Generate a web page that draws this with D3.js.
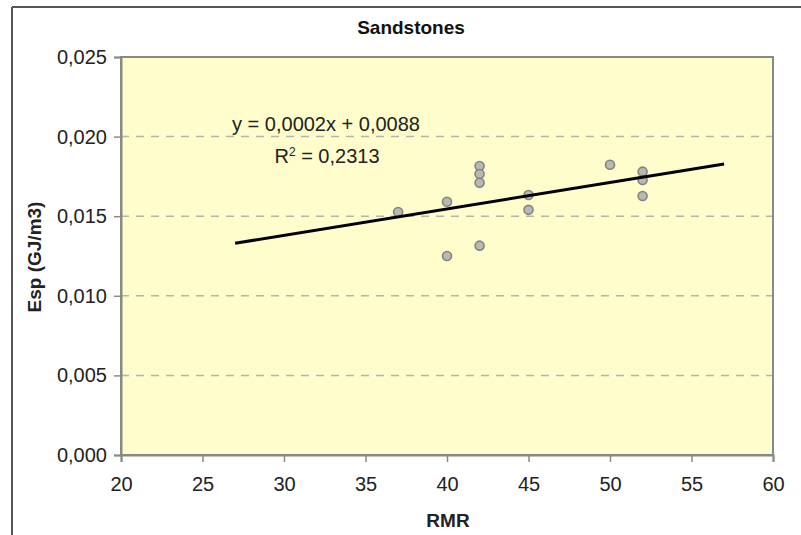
<!DOCTYPE html>
<html><head><meta charset="utf-8">
<script src="https://cdn.jsdelivr.net/npm/d3@7"></script>
<style>body{margin:0;background:#fff}svg{display:block;font-family:"Liberation Sans",Arial,sans-serif}</style>
</head><body><svg width="801" height="535"></svg>
<script>
const title = "Sandstones";
const rmr = [37, 40, 40, 42, 42, 42, 42, 45, 45, 50, 52, 52, 52];
const esp = [0.01526, 0.01591, 0.0125, 0.01815, 0.01765, 0.0171, 0.01315, 0.01633, 0.0154, 0.01823, 0.0178, 0.01727, 0.01627];
const xTicks = [20, 25, 30, 35, 40, 45, 50, 55, 60];
const yTicks = [0, 0.005, 0.010, 0.015, 0.020, 0.025];
const trendRange = [27, 57];
const eqLine1 = "y = 0,0002x + 0,0088";
const r2Value = "0,2313";

const svg = d3.select("svg");
const L = 121, R = 773, T = 57, B = 455;
const x = d3.scaleLinear().domain([20, 60]).range([L, R]);
const y = d3.scaleLinear().domain([0, 0.025]).range([B, T]);

// outer frame
svg.append("line").attr("x1", 12).attr("x2", 801).attr("y1", 7).attr("y2", 7).attr("stroke", "#555").attr("stroke-width", 2);
svg.append("line").attr("x1", 12).attr("x2", 12).attr("y1", 7).attr("y2", 535).attr("stroke", "#555").attr("stroke-width", 2);

// plot area
svg.append("rect").attr("x", L).attr("y", T).attr("width", R - L).attr("height", B - T)
  .attr("fill", "#fefdcb");

// grid
svg.append("g").selectAll("line").data(yTicks.filter(d => d > 0 && d < 0.025)).join("line")
  .attr("x1", L).attr("x2", R).attr("y1", d => y(d)).attr("y2", d => y(d))
  .attr("stroke", "#b5b5a8").attr("stroke-width", 1.5).attr("stroke-dasharray", "8,7");

svg.append("rect").attr("x", L).attr("y", T).attr("width", R - L).attr("height", B - T)
  .attr("fill", "none").attr("stroke", "#8a8a84").attr("stroke-width", 2);

const fmt = d => d3.format(".3f")(d).replace(".", ",");
const ya = svg.append("g").attr("transform", `translate(${L},0)`)
  .call(d3.axisLeft(y).tickValues(yTicks).tickFormat(fmt).tickSize(7).tickPadding(7));
const xa = svg.append("g").attr("transform", `translate(0,${B})`)
  .call(d3.axisBottom(x).tickValues(xTicks).tickSize(7).tickPadding(15));
[ya, xa].forEach(a => {
  a.select(".domain").attr("stroke", "#8a8a84").attr("stroke-width", 2);
  a.selectAll(".tick line").attr("stroke", "#8a8a84").attr("stroke-width", 1.5);
  a.selectAll("text").attr("font-size", 20).attr("fill", "#222").attr("font-family", "Liberation Sans, Arial, sans-serif");
});

// regression
const mx = d3.mean(rmr), my = d3.mean(esp);
const sxy = d3.sum(rmr, (v, i) => (v - mx) * (esp[i] - my));
const sxx = d3.sum(rmr, v => (v - mx) ** 2);
const slope = sxy / sxx, icpt = my - slope * mx;

// points
svg.append("g").selectAll("circle").data(rmr.map((v, i) => [v, esp[i]])).join("circle")
  .attr("cx", d => x(d[0])).attr("cy", d => y(d[1])).attr("r", 4.5)
  .attr("fill", "#b8b8b4").attr("stroke", "#84847e").attr("stroke-width", 1.6);

svg.append("line")
  .attr("x1", x(trendRange[0])).attr("y1", y(slope * trendRange[0] + icpt))
  .attr("x2", x(trendRange[1])).attr("y2", y(slope * trendRange[1] + icpt))
  .attr("stroke", "#000").attr("stroke-width", 3);

// texts
svg.append("text").attr("x", 411).attr("y", 34).attr("text-anchor", "middle")
  .attr("font-size", 19).attr("font-weight", "bold").attr("fill", "#111").text(title);
svg.append("text").attr("x", 448).attr("y", 527).attr("text-anchor", "middle")
  .attr("font-size", 19).attr("font-weight", "bold").attr("fill", "#222").text("RMR");
svg.append("text").attr("transform", "translate(41,257) rotate(-90)").attr("text-anchor", "middle")
  .attr("font-size", 19).attr("font-weight", "bold").attr("fill", "#222").text("Esp (GJ/m3)");

svg.append("text").attr("x", 326).attr("y", 131).attr("text-anchor", "middle")
  .attr("font-size", 20).attr("fill", "#222").text(eqLine1);
const r2 = svg.append("text").attr("x", 327).attr("y", 163).attr("text-anchor", "middle")
  .attr("font-size", 20).attr("fill", "#222");
r2.append("tspan").text("R");
r2.append("tspan").attr("dy", -7).attr("font-size", 12).text("2");
r2.append("tspan").attr("dy", 7).text(" = " + r2Value);
</script></body></html>
